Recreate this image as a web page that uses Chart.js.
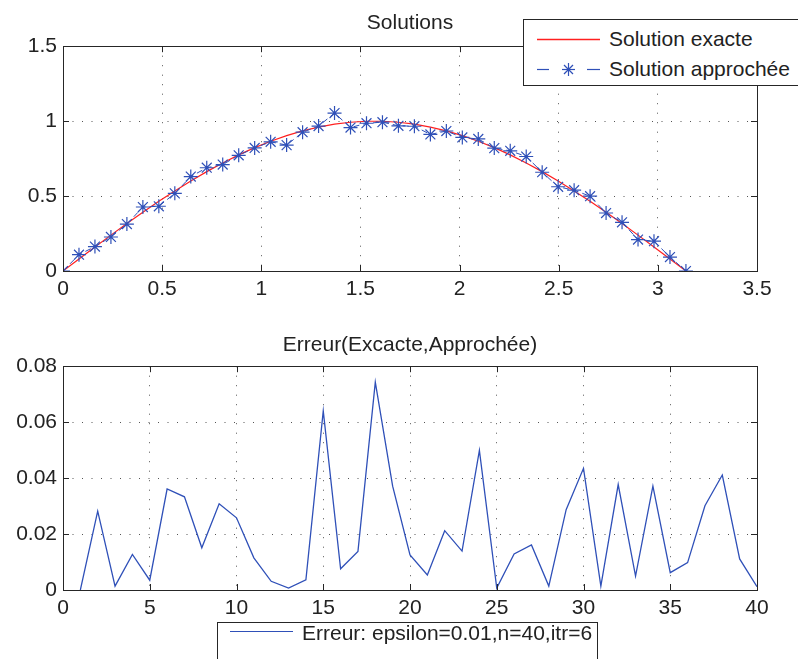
<!DOCTYPE html>
<html>
<head>
<meta charset="utf-8">
<script src="https://cdn.jsdelivr.net/npm/chart.js@4.4.1/dist/chart.umd.min.js"></script>
<style>
  body { margin: 0; background: #fff; width: 798px; height: 659px; overflow: hidden; position: relative; font-family: "Liberation Sans", Arial, sans-serif; }
  #top { position: absolute; left: 0; top: 0; }
  #bottom { position: absolute; left: 0; top: 310px; }
  .legend { position: absolute; background: #fff; border: 1px solid #262626; box-sizing: border-box; font-size: 21px; color: #222; }
  .legend svg { position: absolute; left: 0; top: 0; }
  .legend .txt { position: absolute; line-height: 30px; white-space: nowrap; }
</style>
</head>
<body>
<canvas id="top" width="798" height="310"></canvas>
<canvas id="bottom" width="798" height="349"></canvas>

<div class="legend" id="legTop" style="left:523px; top:19px; width:280px; height:67px;">
  <svg width="280" height="67">
    <line x1="13" y1="19.5" x2="76" y2="19.5" stroke="#ff2020" stroke-width="1.3"/>
    <line x1="13" y1="49.5" x2="25" y2="49.5" stroke="#2f50b8" stroke-width="1.2"/>
    <line x1="63" y1="49.5" x2="76" y2="49.5" stroke="#2f50b8" stroke-width="1.2"/>
    <g stroke="#2f50b8" stroke-width="1.2">
      <line x1="44.5" y1="43" x2="44.5" y2="56"/>
      <line x1="38" y1="49.5" x2="51" y2="49.5"/>
      <line x1="40" y1="45" x2="49" y2="54"/>
      <line x1="49" y1="45" x2="40" y2="54"/>
    </g>
  </svg>
  <div class="txt" style="left:85px; top:4px;">Solution exacte</div>
  <div class="txt" style="left:85px; top:34px;">Solution approchée</div>
</div>

<div class="legend" id="legBottom" style="left:217px; top:622px; width:381px; height:50px;">
  <svg width="381" height="50">
    <line x1="12" y1="8.5" x2="75" y2="8.5" stroke="#2f50b8" stroke-width="1.2"/>
  </svg>
  <div class="txt" style="left:84px; top:-5px;">Erreur: epsilon=0.01,n=40,itr=6</div>
</div>

<script>
// points x = linspace(0, pi, 40)
const xPoints = [0, 0.0806, 0.1611, 0.2417, 0.3222, 0.4028, 0.4833, 0.5639, 0.6444, 0.7250,
  0.8055, 0.8861, 0.9666, 1.0472, 1.1278, 1.2083, 1.2889, 1.3694, 1.4500, 1.5306,
  1.6111, 1.6917, 1.7722, 1.8528, 1.9333, 2.0139, 2.0944, 2.1750, 2.2555, 2.3361,
  2.4166, 2.4972, 2.5777, 2.6583, 2.7389, 2.8194, 2.9000, 2.9805, 3.0611, 3.1416];

const exacte = [0, 0.0805, 0.1604, 0.2393, 0.3167, 0.3920, 0.4647, 0.5345, 0.6007, 0.6631,
  0.7212, 0.7746, 0.8230, 0.8660, 0.9034, 0.9350, 0.9604, 0.9798, 0.9927, 0.9992,
  0.9992, 0.9927, 0.9798, 0.9604, 0.9350, 0.9034, 0.8660, 0.8230, 0.7746, 0.7212,
  0.6631, 0.6007, 0.5345, 0.4647, 0.3920, 0.3167, 0.2393, 0.1604, 0.0805, 0];

const approchee = [0, 0.109, 0.163, 0.227, 0.313, 0.427, 0.432, 0.518, 0.630, 0.689,
  0.710, 0.772, 0.821, 0.862, 0.840, 0.926, 0.967, 1.054, 0.957, 0.986,
  0.993, 0.969, 0.966, 0.911, 0.934, 0.891, 0.881, 0.820, 0.802, 0.764,
  0.659, 0.562, 0.539, 0.499, 0.387, 0.325, 0.210, 0.199, 0.093, 0];

// erreur vs indice 1..40
const errIndex = [1, 2, 3, 4, 5, 6, 7, 8, 9, 10, 11, 12, 13, 14, 15, 16, 17, 18, 19, 20,
  21, 22, 23, 24, 25, 26, 27, 28, 29, 30, 31, 32, 33, 34, 35, 36, 37, 38, 39, 40];
const erreur = [0, 0.0282, 0.0014, 0.0127, 0.0035, 0.0361, 0.0333, 0.0151, 0.0308, 0.0258,
  0.0115, 0.0031, 0.0007, 0.0036, 0.0640, 0.0076, 0.0138, 0.0743, 0.0371, 0.0125,
  0.0054, 0.0212, 0.0139, 0.0499, 0.0007, 0.0129, 0.0161, 0.0014, 0.0287, 0.0435,
  0.0014, 0.0377, 0.0050, 0.0371, 0.0062, 0.0098, 0.0301, 0.0411, 0.0111, 0.0012];

const xTopLabels = ["0", "0.5", "1", "1.5", "2", "2.5", "3", "3.5"];
const yTopLabels = ["0", "0.5", "1", "1.5"];
const xBotLabels = ["0", "5", "10", "15", "20", "25", "30", "35", "40"];
const yBotLabels = ["0", "0.02", "0.04", "0.06", "0.08"];

const blue = "#2f50b8";
const red = "#ff2020";
const textColor = "#222";
const font = { family: "'Liberation Sans', Arial, sans-serif", size: 21 };

// matlab style box + inward ticks
const frame = {
  id: "frame",
  afterDraw(chart) {
    const { ctx, chartArea: a, scales } = chart;
    ctx.save();
    ctx.strokeStyle = "#262626";
    ctx.lineWidth = 1;
    ctx.strokeRect(Math.round(a.left) + 0.5, Math.round(a.top) + 0.5, Math.round(a.right - a.left), Math.round(a.bottom - a.top));
    ctx.beginPath();
    scales.x.ticks.forEach((t) => {
      const px = Math.round(scales.x.getPixelForValue(t.value)) + 0.5;
      ctx.moveTo(px, a.bottom); ctx.lineTo(px, a.bottom - 6);
      ctx.moveTo(px, a.top); ctx.lineTo(px, a.top + 6);
    });
    scales.y.ticks.forEach((t) => {
      const py = Math.round(scales.y.getPixelForValue(t.value)) + 0.5;
      ctx.moveTo(a.left, py); ctx.lineTo(a.left + 6, py);
      ctx.moveTo(a.right, py); ctx.lineTo(a.right - 6, py);
    });
    ctx.stroke();
    ctx.restore();
  }
};

function axis(min, max, step, labels, fit, isX) {
  return {
    type: "linear",
    min: min,
    max: max,
    ticks: {
      stepSize: step,
      autoSkip: false,
      maxRotation: 0,
      padding: 6,
      color: textColor,
      font: font,
      callback: (v, i) => labels[i]
    },
    grid: { color: "#555", lineWidth: 1, drawTicks: false },
    border: { display: false, dash: [1, 8.5] },
    afterFit: (s) => { if (isX) s.height = fit; else s.width = fit; }
  };
}

new Chart(document.getElementById("top"), {
  type: "scatter",
  data: {
    datasets: [
      {
        label: "Solution approchée",
        data: xPoints.map((x, i) => ({ x: x, y: approchee[i] })),
        showLine: true,
        borderColor: blue,
        borderWidth: 1,
        borderDash: [6, 4],
        pointStyle: "star",
        pointRadius: 7,
        pointBorderColor: blue,
        pointBorderWidth: 1.2,
        order: 0
      },
      {
        label: "Solution exacte",
        data: xPoints.map((x, i) => ({ x: x, y: exacte[i] })),
        showLine: true,
        borderColor: red,
        borderWidth: 1.2,
        pointRadius: 0,
        order: 1
      }
    ]
  },
  options: {
    responsive: false,
    animation: false,
    layout: { padding: { left: 0, right: 41, top: 0, bottom: 0 } },
    plugins: {
      legend: { display: false },
      tooltip: { enabled: false },
      title: {
        display: true,
        text: "Solutions",
        fullSize: false,
        color: textColor,
        font: { family: font.family, size: 21, weight: "normal" },
        padding: { top: 11, bottom: 10 }
      }
    },
    scales: {
      x: axis(0, 3.5, 0.5, xTopLabels, 39, true),
      y: axis(0, 1.5, 0.5, yTopLabels, 63, false)
    }
  },
  plugins: [frame]
});

new Chart(document.getElementById("bottom"), {
  type: "scatter",
  data: {
    datasets: [
      {
        label: "Erreur: epsilon=0.01,n=40,itr=6",
        data: errIndex.map((x, i) => ({ x: x, y: erreur[i] })),
        showLine: true,
        borderColor: blue,
        borderWidth: 1.3,
        pointRadius: 0
      }
    ]
  },
  options: {
    responsive: false,
    animation: false,
    layout: { padding: { left: 0, right: 41, top: 0, bottom: 0 } },
    plugins: {
      legend: { display: false },
      tooltip: { enabled: false },
      title: {
        display: true,
        text: "Erreur(Excacte,Approchée)",
        fullSize: false,
        color: textColor,
        font: { family: font.family, size: 21, weight: "normal" },
        padding: { top: 23, bottom: 8 }
      }
    },
    scales: {
      x: axis(0, 40, 5, xBotLabels, 69, true),
      y: axis(0, 0.08, 0.02, yBotLabels, 63, false)
    }
  },
  plugins: [frame]
});
</script>
</body>
</html>
